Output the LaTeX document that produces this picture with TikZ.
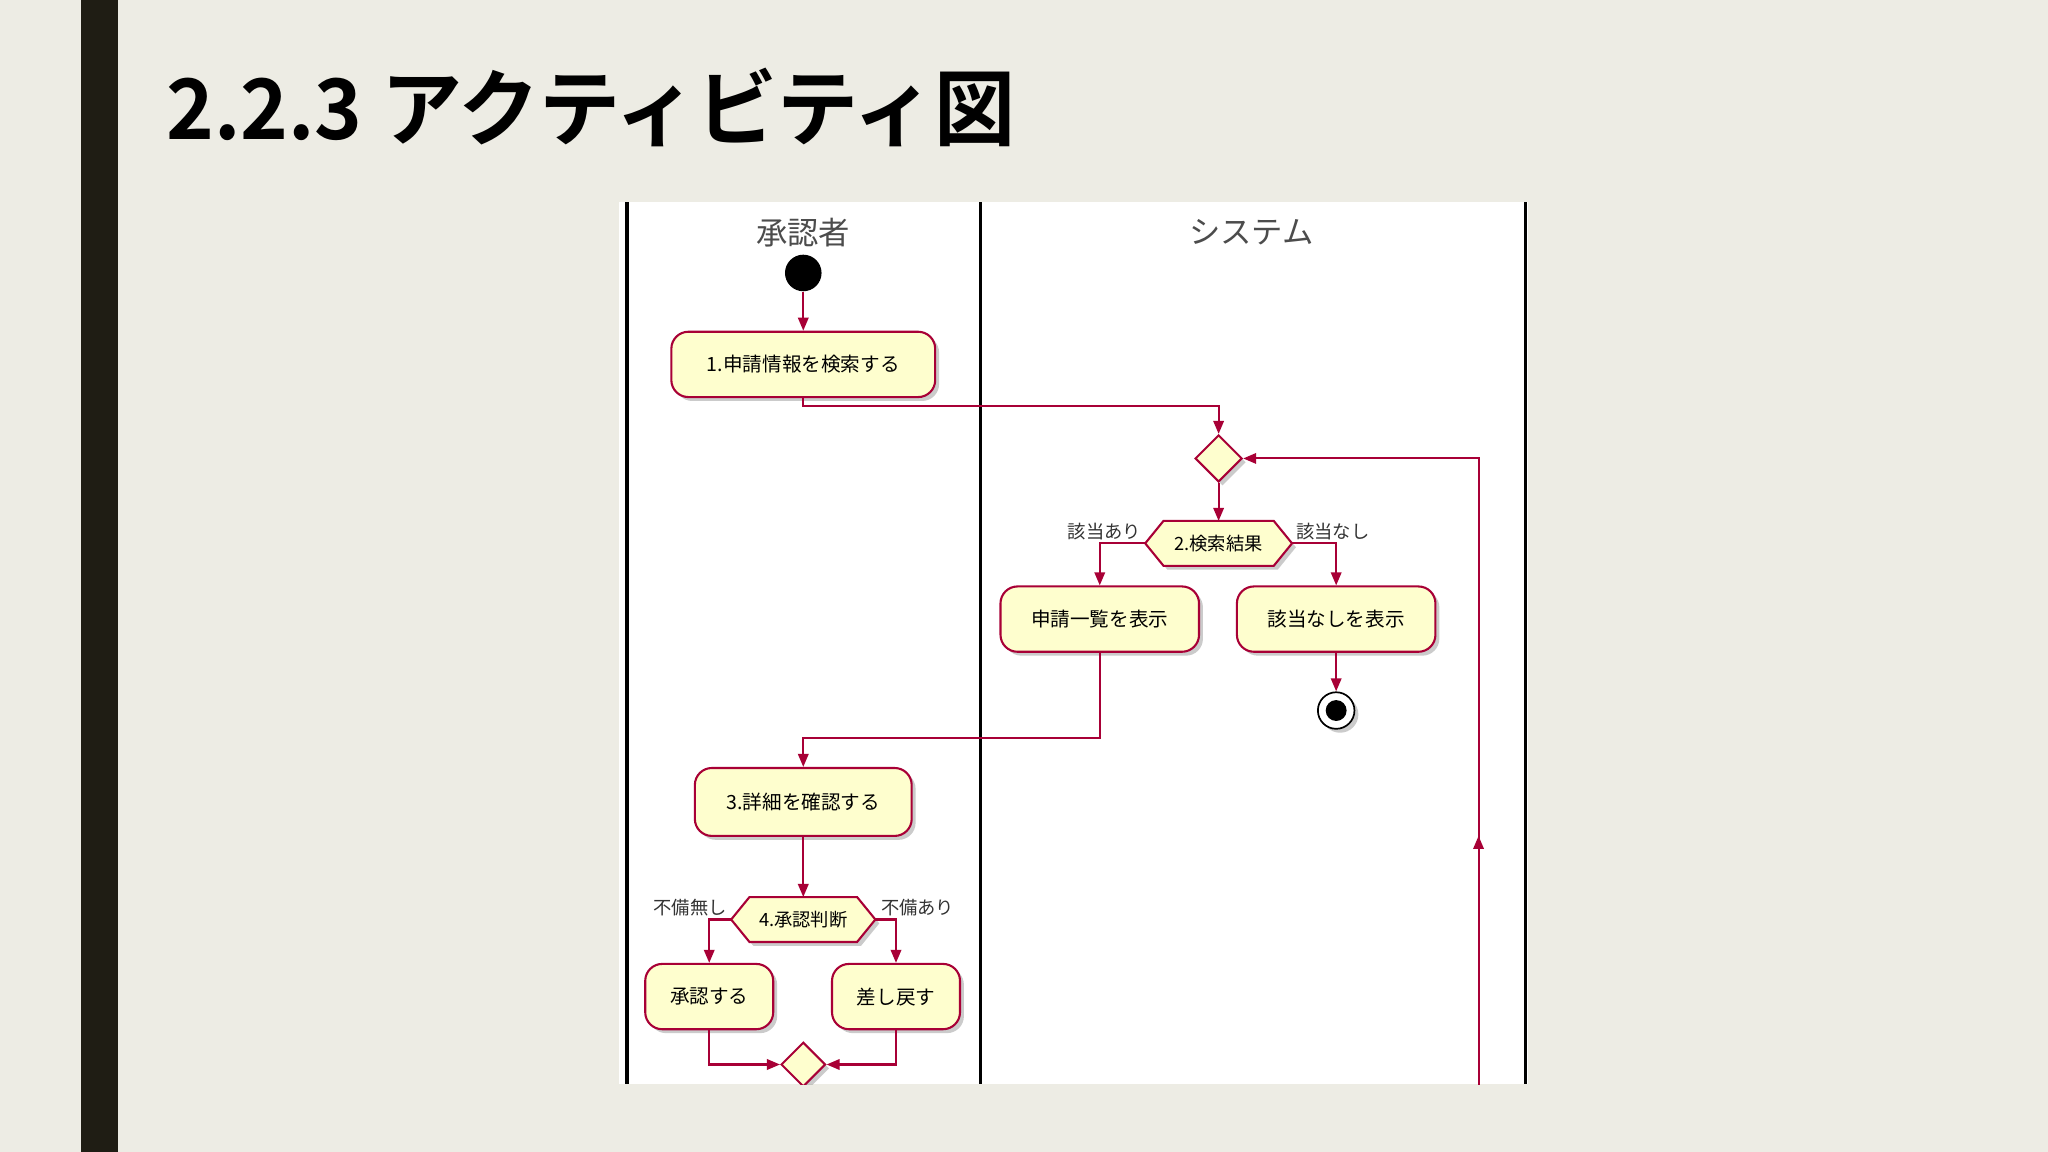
\documentclass[tikz,border=0pt]{standalone}
\usepackage{fontspec}
\setmainfont{Noto Sans CJK JP}[BoldFont={Noto Sans CJK JP Bold}]
\usetikzlibrary{arrows.meta,shadows,shapes.geometric}
\definecolor{bg}{HTML}{EDECE4}
\definecolor{bar}{HTML}{1F1D14}
\definecolor{uml}{HTML}{A80036}
\definecolor{act}{HTML}{FEFECE}
\begin{document}
\begin{tikzpicture}[x=1pt,y=-1pt,
  act/.style={draw=uml,line width=1.6pt,fill=act,rounded corners=13pt,minimum height=50pt,font=\fontsize{15}{15}\selectfont,drop shadow={shadow xshift=3pt,shadow yshift=-3pt,fill=black!40,opacity=.5}},
  dia/.style={diamond,draw=uml,line width=1.6pt,fill=act,minimum size=36pt,inner sep=0pt,drop shadow={shadow xshift=3pt,shadow yshift=-3pt,fill=black!40,opacity=.5}},
  fl/.style={draw=uml,line width=1.6pt,-{Triangle[length=10pt,width=8pt]}},
  lab/.style={font=\fontsize{14}{14}\selectfont,text=black!80},
  hexs/.style={draw=uml,line width=1.6pt,fill=act,drop shadow={shadow xshift=3pt,shadow yshift=-3pt,fill=black!40,opacity=.5}},
  lane/.style={line width=2.4pt,black}]
\newcommand\hexnode[4]{%
  \node[minimum width=#3pt,minimum height=34pt,inner sep=0pt] (#1) at (#2) {};
  \path[hexs] (#1.west)--([xshift=14pt]#1.north west)--([xshift=-14pt]#1.north east)--(#1.east)--([xshift=-14pt]#1.south east)--([xshift=14pt]#1.south west)--cycle;
  \node[font=\fontsize{14}{14}\selectfont] at (#1) {#4};}
\fill[bg] (0,0) rectangle (1568,882);
\useasboundingbox (0,0) rectangle (1568,882);
\fill[bar] (62,0) rectangle (90,882);
\node[anchor=west,font=\bfseries\fontsize{64}{64}\selectfont,xscale=0.97,text=black] (title) at (124,82) {2.2.3 アクティビティ図};
\begin{scope}
\clip (474,155) rectangle (1170,830);
\fill[white] (474,155) rectangle (1170,830);
\draw[lane] (480,155)--(480,830);
\draw[lane] (751,155)--(751,830);
\draw[lane] (1168,155)--(1168,830);
\node[font=\fontsize{24}{24}\selectfont,text=black!70] (h1) at (615,178) {承認者};
\node[font=\fontsize{24}{24}\selectfont,text=black!70] (h2) at (958,178) {システム};
\node[circle,fill=black,minimum size=28pt,inner sep=0pt] (start) at (615,209) {};
\node[act,minimum width=202pt] (a1) at (615,279) {1.申請情報を検索する};
\node[dia] (m1) at (933,351) {};
\hexnode{h2k}{933,416}{112}{2.検索結果}
\node[act,minimum width=152pt] (a2) at (842,474) {申請一覧を表示};
\node[act,minimum width=152pt] (a3) at (1023,474) {該当なしを表示};
\node[circle,draw=black,line width=1.3pt,fill=white,minimum size=28pt,inner sep=0pt,drop shadow={shadow xshift=3pt,shadow yshift=-3pt,fill=black!40,opacity=.5}] (end) at (1023,544) {};
\node[circle,fill=black,minimum size=16pt,inner sep=0pt] (endin) at (end) {};
\node[act,minimum width=166pt,minimum height=52pt] (a4) at (615,614) {3.詳細を確認する};
\hexnode{h4}{615,704}{110}{4.承認判断}
\node[act,minimum width=98pt] (a5) at (543,763) {承認する};
\node[act,minimum width=98pt] (a6) at (686,763) {差し戻す};
\node[dia,minimum size=34pt] (m2) at (615,815) {};
\coordinate (loopb) at (1132,840);
\draw[fl] (start)--(a1);
\draw[fl] (a1.south) |- (933,311) -- (m1.north);
\draw[fl] (loopb) -- (1132,640);
\draw[fl] (1132,650) |- (m1.east);
\draw[fl] (m1.south)--(h2k.north);
\draw[fl] (h2k.west) -| (a2.north);
\draw[fl] (h2k.east) -| (a3.north);
\draw[fl] (a3.south)--(end.north);
\draw[fl] (a2.south) |- (615,565) -- (a4.north);
\draw[fl] (a4.south)--(h4.north);
\draw[fl] (h4.west) -| (a5.north);
\draw[fl] (h4.east) -| (a6.north);
\draw[fl] (a5.south) |- (m2.west);
\draw[fl] (a6.south) |- (m2.east);
\node[lab,anchor=south east] (l1) at (877,417) {該当あり};
\node[lab,anchor=south west] (l2) at (989,417) {該当なし};
\node[lab,anchor=south east] (l3) at (560,705) {不備無し};
\node[lab,anchor=south west] (l4) at (671,705) {不備あり};
\end{scope}
\end{tikzpicture}
\end{document}
